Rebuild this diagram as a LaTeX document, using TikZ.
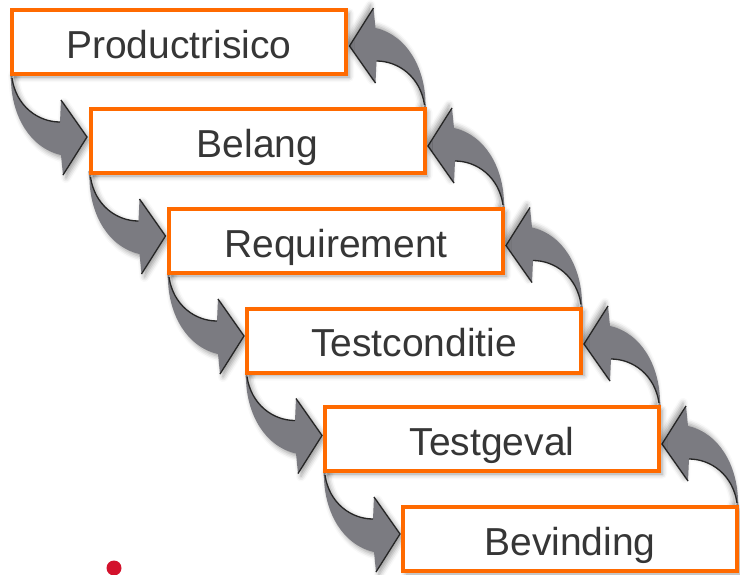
\documentclass[tikz,border=0pt]{standalone}
\usepackage{fontspec}
\setmainfont{Liberation Sans}
\usetikzlibrary{shapes,arrows,positioning,calc,backgrounds,shadows.blur}
\definecolor{oranje}{HTML}{FF6A00}
\definecolor{pijlgrijs}{HTML}{7B7B81}
\definecolor{tekstgrijs}{HTML}{363636}
\definecolor{stiprood}{HTML}{D3122C}

\begin{document}
\begin{tikzpicture}[x=1pt,y=-1pt]
  \tikzstyle{stap}=[rectangle, draw=oranje, line width=4pt, fill=white, minimum width=334pt, minimum height=64pt, inner sep=0pt, text=tekstgrijs, font=\fontsize{39}{46}\selectfont, text height=36pt, text depth=4pt, blur shadow={shadow xshift=3pt, shadow yshift=-3pt, shadow blur radius=5pt, shadow opacity=40}]
  \tikzstyle{pijl}=[fill=pijlgrijs, blur shadow={shadow xshift=3pt, shadow yshift=-3pt, shadow blur radius=5pt, shadow opacity=40}]
  \tikzstyle{pijlterug}=[fill=pijlgrijs, blur shadow={shadow xshift=-3pt, shadow yshift=3pt, shadow blur radius=5pt, shadow opacity=40}]
  \tikzstyle{rand}=[draw=black!85, line width=1.3pt]
  \useasboundingbox (0,0) rectangle (740,574);

  % Stappen
  \node[stap] (risico) at (179,42) {Productrisico};
  \node[stap] (belang) at (257.5,141) {Belang};
  \node[stap] (req) at (336,241) {Requirement};
  \node[stap] (cond) at (414,340.5) {Testconditie};
  \node[stap] (geval) at (492,439) {Testgeval};
  \node[stap] (bev) at (570,539) {Bevinding};

  % Pijlen omlaag en terug
  \begin{scope}[on background layer]
    \foreach \a/\b in {risico/belang, belang/req, req/cond, cond/geval, geval/bev} {
      \begin{scope}[shift={(\a.south west)}]
        \path[pijl] (0,-4) -- (1,5) .. controls (2,40) and (20,72) .. (51,79) -- (53,99) -- (77,61) -- (51,24) -- (50,46) .. controls (28,46) and (6,30) .. (2,2) -- (4,-4) -- cycle;
        \draw[rand] (51,24) -- (77,61) -- (53,99);
        \draw[rand] (50,46) .. controls (28,46) and (6,30) .. (2,2);
      \end{scope}
      \begin{scope}[shift={(\b.north east)}, rotate=180]
        \path[pijlterug] (0,-4) -- (1,5) .. controls (2,40) and (20,72) .. (51,79) -- (53,99) -- (77,61) -- (51,24) -- (50,46) .. controls (28,46) and (6,30) .. (2,2) -- (4,-4) -- cycle;
        \draw[rand] (51,24) -- (77,61) -- (53,99);
        \draw[rand] (50,46) .. controls (28,46) and (6,30) .. (2,2);
      \end{scope}
    }
  \end{scope}

  % Rode stip
  \node[circle, fill=stiprood, minimum size=15pt, inner sep=0pt] (stip) at (114,568) {};
\end{tikzpicture}
\end{document}
